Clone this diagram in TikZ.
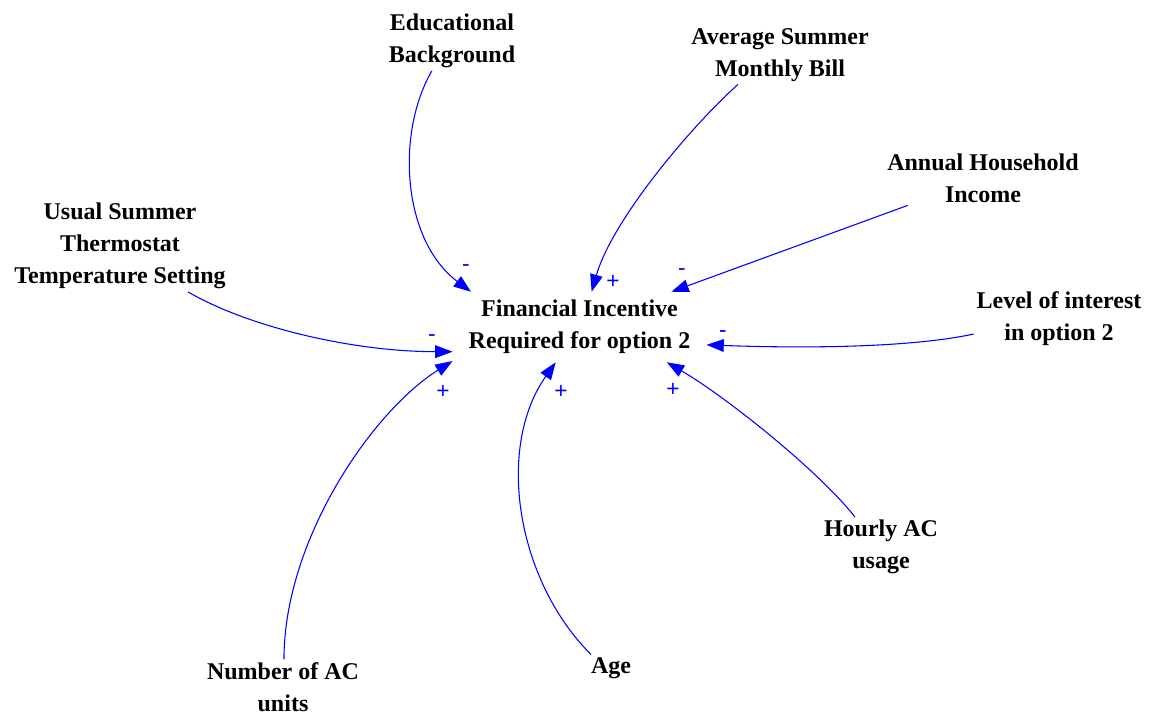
\documentclass[tikz,border=0pt]{standalone}
\usepackage{fontspec}
\setmainfont{Liberation Serif}
\newfontfamily\signfont{Liberation Sans}
\usetikzlibrary{arrows.meta}

\begin{document}
\begin{tikzpicture}[
    x=0.75pt, y=-0.75pt,
    var/.style    = {align=center, font=\fontsize{18}{24}\selectfont\bfseries, inner sep=2pt},
    target/.style = {align=center, font=\fontsize{18}{24}\selectfont\bfseries, inner sep=0pt, minimum width=190pt, minimum height=52.5pt},
    sign/.style   = {text=blue, font=\signfont\fontsize{17}{17}\selectfont, inner sep=0pt, text height=12pt, text depth=0pt},
    arr/.style    = {-{Triangle[length=13pt, width=9.5pt]}, blue, line width=0.8pt}
]
\useasboundingbox (0,0) rectangle (1155,715);

% ---- Central variable ----
\node[target] (fi) at (579.5,327) {Financial Incentive\\Required for option 2};

% ---- Causes ----
\node[var] (edu)      at (452,41)  {Educational\\Background};
\node[var] (bill)     at (780,55)  {Average Summer\\Monthly Bill};
\node[var] (income)   at (983,178) {Annual Household\\Income};
\node[var] (temp)     at (120,246) {Usual Summer\\Thermostat\\Temperature Setting};
\node[var] (interest) at (1059,319){Level of interest\\in option 2};
\node[var] (hourly)   at (881,547) {Hourly AC\\usage};
\node[var] (age)      at (611,668) {Age};
\node[var] (units)    at (283,687) {Number of AC\\units};

% ---- Links ----
\draw[arr] (edu.236)      .. controls +(-36,62)  and +(-69,-52) .. (fi.162);
\draw[arr] (bill.215)     .. controls +(-50,45)  and +(20,-70)  .. (fi.71);
\draw[arr] (income.200)   -- (fi.21);
\draw[arr] (temp.326)     .. controls +(60,35)   and +(-100,0)  .. (fi.191);
\draw[arr] (interest.190) .. controls +(-70,15)  and +(80,3)    .. (fi.-8);
\draw[arr] (hourly.131)   .. controls +(-35,-45) and +(60,35)   .. (fi.-22);
\draw[arr] (age.146)      .. controls +(-75,-75) and +(-60,85)  .. (fi.236);
\draw[arr] (units.88)     .. controls +(0,-120)  and +(-80,50)  .. (fi.195);

% ---- Polarities ----
\node[sign] (s-edu)      at (466,263) {-};
\node[sign] (s-bill)     at (613,280) {+};
\node[sign] (s-income)   at (682,267) {-};
\node[sign] (s-temp)     at (432,333) {-};
\node[sign] (s-interest) at (723,329) {-};
\node[sign] (s-hourly)   at (673,388) {+};
\node[sign] (s-age)      at (561,390) {+};
\node[sign] (s-units)    at (443,390) {+};

\end{tikzpicture}
\end{document}
